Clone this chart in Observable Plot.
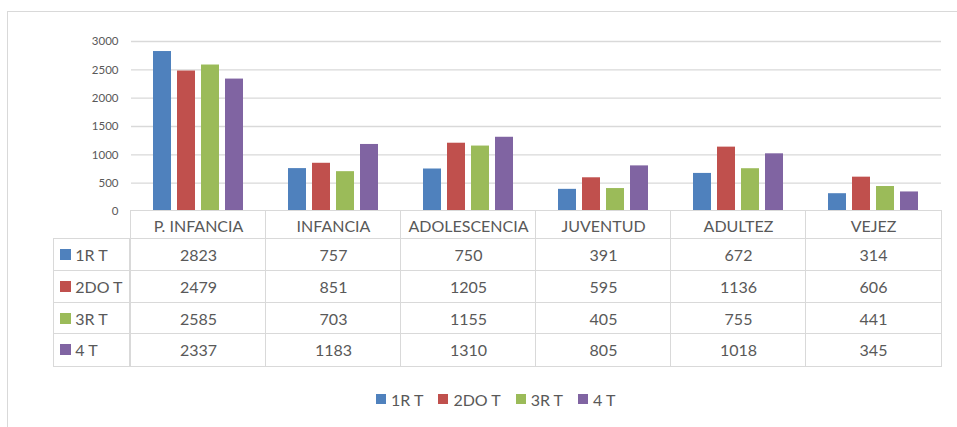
<!DOCTYPE html>
<html><head><meta charset="utf-8">
<script src="https://cdn.jsdelivr.net/npm/d3@7"></script>
<script src="https://cdn.jsdelivr.net/npm/@observablehq/plot@0.6"></script>
<style>
body{margin:0;background:#fff;}
#wrap{position:relative;width:957px;height:427px;overflow:hidden;font-family:Lato,"Open Sans",sans-serif;color:#595959;background:#fff;}
#frame{position:absolute;left:7px;top:11px;width:1000px;height:500px;border:1.5px solid #d9d9d9;box-sizing:border-box;}
#chart{position:absolute;left:0;top:0;}
.cell{position:absolute;box-sizing:border-box;border:1.5px solid #d9d9d9;display:flex;align-items:center;justify-content:center;font-size:16px;color:#595959;background:#fff;}
.rowhead{justify-content:flex-start;padding-left:6px;}
.sw{display:inline-block;width:11px;height:11px;margin-right:4px;}
#legend{position:absolute;left:376px;top:390px;height:18px;display:flex;align-items:center;font-size:16px;color:#595959;}
#legend .item{display:flex;align-items:center;margin-right:15px;}
#legend .sw{width:10px;height:10px;margin-right:5px;}
</style>
</head><body>
<div id="wrap"><div id="frame"></div><div id="chart"></div><div id="table"></div><div id="legend"></div></div>
<script>
const categories = ["P. INFANCIA","INFANCIA","ADOLESCENCIA","JUVENTUD","ADULTEZ","VEJEZ"];
const seriesNames = ["1R T","2DO T","3R T","4 T"];
const v1 = [2823,757,750,391,672,314];
const v2 = [2479,851,1205,595,1136,606];
const v3 = [2585,703,1155,405,755,441];
const v4 = [2337,1183,1310,805,1018,345];
const colors = ["#4F81BD","#C0504D","#9BBB59","#8064A2"];
const yTicks = [0,500,1000,1500,2000,2500,3000];

const seriesValues = [v1,v2,v3,v4];
const data = [];
categories.forEach((c,i)=>seriesNames.forEach((s,j)=>data.push({cat:c,series:s,value:seriesValues[j][i]})));

const chart = Plot.plot({
  width:957, height:225,
  marginLeft:129, marginRight:15, marginTop:41, marginBottom:14,
  style:{fontFamily:"Lato, 'Open Sans', sans-serif", fontSize:"11.5px", color:"#595959", background:"transparent"},
  fx:{domain:categories, padding:0, axis:null},
  x:{domain:seriesNames, paddingInner:0.233, paddingOuter:0.852, axis:null},
  y:{domain:[0,3000], axis:null},
  color:{domain:seriesNames, range:colors},
  marks:[
    Plot.gridY(yTicks,{stroke:"#d9d9d9", strokeOpacity:1, strokeWidth:1.3}),
    Plot.axisY(yTicks,{tickSize:0, tickPadding:13, tickFormat:d=>String(d), fill:"#595959", label:null}),
    Plot.barY(data,{fx:"cat", x:"series", y:"value", fill:"series"})
  ]
});
document.getElementById("chart").appendChild(chart);

// data table
const table = document.getElementById("table");
const fx = chart.scale("fx");
const tLeft = 54, tTop = 211, headW = 129 - 54, headH = 28, rowH = 31.7, colW = fx.bandwidth || fx.step;
function addCell(x,y,w,h,html,cls){
  const d = document.createElement("div");
  d.className = "cell" + (cls?" "+cls:"");
  d.style.left = (x-0.75)+"px"; d.style.top = (y-0.75)+"px";
  d.style.width = (w+1.5)+"px"; d.style.height = (h+1.5)+"px";
  d.innerHTML = html;
  table.appendChild(d);
}
categories.forEach((c,i)=>{
  const x = fx.apply(c);
  addCell(x, tTop, colW, headH, c);
  seriesNames.forEach((s,j)=>{
    addCell(x, tTop+headH+j*rowH, colW, rowH, String(seriesValues[j][i]));
  });
});
seriesNames.forEach((s,j)=>{
  addCell(tLeft, tTop+headH+j*rowH, headW, rowH, `<span class="sw" style="background:${colors[j]}"></span>${s}`, "rowhead");
});

// legend
const legend = document.getElementById("legend");
seriesNames.forEach((s,j)=>{
  const it = document.createElement("div");
  it.className = "item";
  it.innerHTML = `<span class="sw" style="background:${colors[j]}"></span>${s}`;
  legend.appendChild(it);
});
</script>
</body></html>
